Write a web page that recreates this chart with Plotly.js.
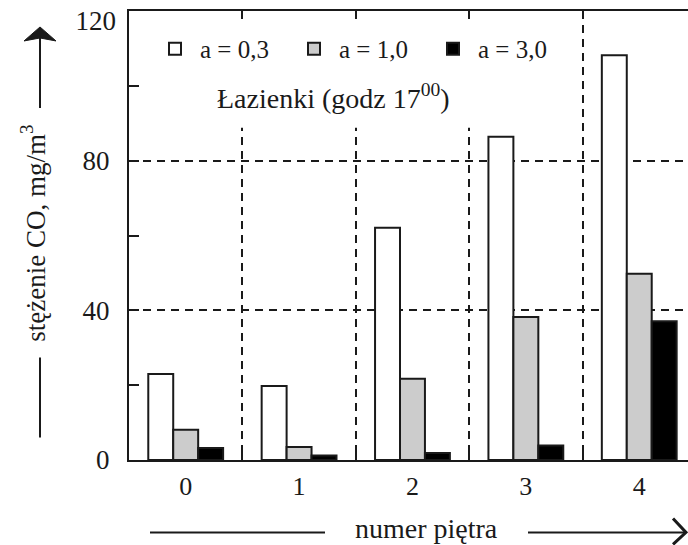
<!DOCTYPE html>
<html>
<head>
<meta charset="utf-8">
<script src="https://cdn.plot.ly/plotly-3.0.1.min.js"></script>
<style>html,body{margin:0;padding:0;background:#fff;overflow:hidden}</style>
</head>
<body>
<div id="chart" style="width:688px;height:545px"></div>
<script>
// Data
var floors = [0, 1, 2, 3, 4];
var floorLabels = ['0', '1', '2', '3', '4'];
var seriesNames = ['a = 0,3', 'a = 1,0', 'a = 3,0'];
var a03 = [23.0, 19.8, 62.1, 86.4, 108.2];
var a10 = [8.1, 3.5, 21.7, 38.2, 49.8];
var a30 = [3.2, 1.2, 1.9, 3.9, 37.1];
var yMax = 120;
var yTicks = [0, 40, 80];
var yTopTick = [120];
var yMinorTicks = [20, 60, 100, 120];
var xBoundaries = [0.5, 1.5, 2.5, 3.5];
var xRange = [-0.5, 4.43];

var FONT = '"Liberation Serif", "Times New Roman", Times, serif';
var INK = '#1a1a1a';
var fills = ['#ffffff', '#cccccc', '#000000'];
var values = [a03, a10, a30];

var traces = values.map(function (v, i) {
  return {
    type: 'bar',
    x: floors,
    y: v,
    name: seriesNames[i],
    marker: {color: fills[i], line: {color: INK, width: 2}},
    hoverinfo: 'skip'
  };
});
// empty helper trace so the overlay axes (top ticks, top label) are drawn
traces.push({type: 'scatter', mode: 'markers', x: [], y: [], xaxis: 'x2', yaxis: 'y2', showlegend: false, hoverinfo: 'skip'});

// plot area: x 129..688, y 11..460.5 (px)
function px(x) { return (x - 129) / 559; }
function py(y) { return (460.5 - y) / 449.5; }
function P(x, y) { return px(x) + ',' + py(y); }

var layout = {
  width: 688, height: 545,
  margin: {l: 129, r: 0, t: 11, b: 84.5, pad: 0},
  paper_bgcolor: '#ffffff', plot_bgcolor: '#ffffff',
  barmode: 'group', bargap: 0.34, bargroupgap: 0,
  font: {family: FONT, size: 27, color: INK},
  showlegend: true,
  xaxis: {
    range: xRange,
    tickmode: 'array', tickvals: floors, ticktext: floorLabels,
    ticks: '', showline: true, linewidth: 2, linecolor: INK, mirror: true,
    showgrid: false, zeroline: false, fixedrange: true,
    tickfont: {size: 26}, ticklabelstandoff: 2,
    minor: {tickmode: 'array', tickvals: xBoundaries, ticks: 'inside', ticklen: 7, tickwidth: 2, tickcolor: INK,
            showgrid: true, gridcolor: INK, gridwidth: 2, griddash: '8px,6px'}
  },
  xaxis2: {
    overlaying: 'x', side: 'top', anchor: 'y',
    range: xRange,
    tickmode: 'array', tickvals: xBoundaries,
    ticks: 'inside', ticklen: 7, tickwidth: 2, tickcolor: INK,
    showticklabels: false, showline: false, showgrid: false, zeroline: false, fixedrange: true
  },
  yaxis: {
    range: [0, yMax],
    tickmode: 'array', tickvals: yTicks,
    ticks: 'inside', ticklen: 10, tickwidth: 2, tickcolor: INK,
    showline: true, linewidth: 2, linecolor: INK,
    showgrid: true, gridcolor: INK, gridwidth: 2, griddash: '8px,6px',
    zeroline: false, fixedrange: true,
    tickfont: {size: 27}, ticklabelstandoff: 12,
    minor: {tickmode: 'array', tickvals: yMinorTicks, ticks: 'inside', ticklen: 10, tickwidth: 2, tickcolor: INK, showgrid: false}
  },
  yaxis2: {
    overlaying: 'y', side: 'left', anchor: 'x',
    range: [0, yMax],
    tickmode: 'array', tickvals: yTopTick,
    ticks: '', showline: false, showgrid: false, zeroline: false, fixedrange: true,
    tickfont: {size: 27}, ticklabelstandoff: 12, ticklabelshift: 10, ticklabeloverflow: 'allow'
  },
  legend: {
    orientation: 'h', x: px(150), y: py(49), xanchor: 'left', yanchor: 'middle',
    font: {size: 25, color: INK}, bgcolor: 'rgba(0,0,0,0)', itemwidth: 40,
    entrywidth: 84, entrywidthmode: 'pixels', traceorder: 'normal', itemclick: false, itemdoubleclick: false
  },
  shapes: [
    // white area behind legend and title (hides the dashed lines there)
    {type: 'rect', xref: 'paper', yref: 'paper', x0: px(158), x1: px(562), y0: py(128), y1: py(19),
     fillcolor: '#ffffff', line: {width: 0}, layer: 'above'},
    // y-axis title: lower line
    {type: 'line', xref: 'paper', yref: 'paper', x0: px(40), x1: px(40), y0: py(358), y1: py(438),
     line: {color: INK, width: 2}},
    // y-axis title: upper arrow line
    {type: 'line', xref: 'paper', yref: 'paper', x0: px(40), x1: px(40), y0: py(108), y1: py(36),
     line: {color: INK, width: 2}},
    // y arrowhead
    {type: 'path', xref: 'paper', yref: 'paper',
     path: 'M' + P(40, 27) + 'L' + P(56, 41) + 'L' + P(40, 38) + 'L' + P(24, 41) + 'Z',
     fillcolor: INK, line: {color: INK, width: 1}},
    // x-axis title: left line
    {type: 'line', xref: 'paper', yref: 'paper', x0: px(150), x1: px(325), y0: py(533), y1: py(533),
     line: {color: INK, width: 2}},
    // x-axis title: right arrow line
    {type: 'line', xref: 'paper', yref: 'paper', x0: px(528), x1: px(684), y0: py(533), y1: py(533),
     line: {color: INK, width: 2}},
    // x arrowhead (open chevron)
    {type: 'path', xref: 'paper', yref: 'paper',
     path: 'M' + P(673, 519) + 'L' + P(686, 533) + 'L' + P(673, 545),
     line: {color: INK, width: 3}}
  ],
  annotations: [
    {text: 'Łazienki (godz 17<sup>00</sup>)', xref: 'paper', yref: 'paper', x: px(333), y: py(97),
     xanchor: 'center', yanchor: 'middle', showarrow: false, font: {size: 28, color: INK}},
    {text: 'stężenie CO, mg/m<sup>3</sup>', xref: 'paper', yref: 'paper', x: px(33), y: py(234),
     xanchor: 'center', yanchor: 'middle', textangle: -90, showarrow: false, font: {size: 27, color: INK}},
    {text: 'numer piętra', xref: 'paper', yref: 'paper', x: px(426), y: py(529),
     xanchor: 'center', yanchor: 'middle', showarrow: false, font: {size: 28, color: INK}}
  ]
};

Plotly.newPlot('chart', traces, layout, {displayModeBar: false, staticPlot: true});
</script>
</body>
</html>
